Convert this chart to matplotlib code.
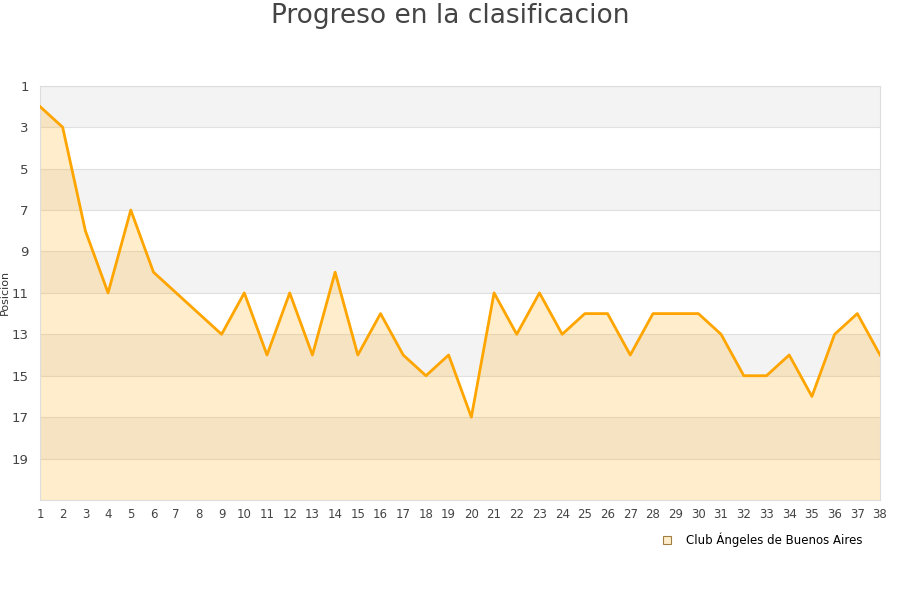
import matplotlib

matplotlib.use("Agg")

import matplotlib.pyplot as plt
from matplotlib.lines import Line2D

# Jornadas y posiciones
jornadas = list(range(1, 39))
posiciones = [2, 3, 8, 11, 7, 10, 11, 12, 13, 11,
              14, 11, 14, 10, 14, 12, 14, 15, 14, 17,
              11, 13, 11, 13, 12, 12, 14, 12, 12, 12,
              13, 15, 15, 14, 16, 13, 12, 14]
equipo = "Club Ángeles de Buenos Aires"
y_ticks = list(range(1, 21, 2))

orange = "#ffa500"

fig = plt.figure(figsize=(9, 6), dpi=100)
ax = fig.add_axes([0.0444, 0.1667, 0.9334, 0.6903])

# alternating bands
for i, t in enumerate(y_ticks):
    if i % 2 == 0:
        ax.axhspan(t, t + 2, color="#f3f3f3", lw=0, zorder=0)
for t in y_ticks:
    ax.axhline(t, color="#e0e0e0", lw=0.8, zorder=1)

ax.fill_between(jornadas, posiciones, 21, color=orange, alpha=0.2, lw=0, zorder=2)
ax.plot(jornadas, posiciones, color=orange, lw=2.0, zorder=3)

ax.set_xlim(1, 38)
ax.set_ylim(21, 1)
ax.set_xticks(jornadas)
ax.set_yticks(y_ticks)
ax.tick_params(axis="both", length=0, labelsize=8.5, colors="#444444")
ax.tick_params(axis="y", labelsize=9.5, pad=8)
ax.tick_params(axis="x", pad=6)
for s in ax.spines.values():
    s.set_color("#dddddd")
ax.set_ylabel("Posicion", fontsize=8, color="#333333")
ax.yaxis.set_label_coords(-0.036, 0.5)

fig.suptitle("Progreso en la clasificacion", fontsize=19, color="#444444", y=0.995)

handle = Line2D([], [], marker="s", linestyle="none", markersize=6,
                markerfacecolor="#ffedcc", markeredgecolor="#a08040", markeredgewidth=0.8)
fig.legend([handle], [equipo], loc="center right", bbox_to_anchor=(0.97, 0.10),
           frameon=False, fontsize=8.5, handletextpad=0.6)

fig.savefig("out.png", dpi=100)
plt.close(fig)
